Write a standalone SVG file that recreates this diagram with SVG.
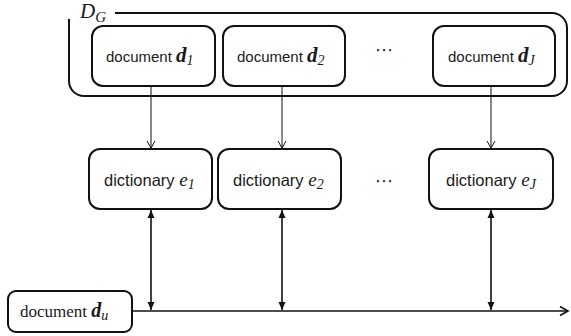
<svg xmlns="http://www.w3.org/2000/svg" width="571" height="336" viewBox="0 0 571 336">
  <style>
    .box { fill: #ffffff; stroke: #111111; stroke-width: 2; }
    .frame { fill: none; stroke: #111111; stroke-width: 2; }
    .lbl { font-family: "Liberation Sans", Arial, sans-serif; fill: #1a1a1a; }
    .math { font-family: "Liberation Serif", "DejaVu Serif", serif; font-style: italic; fill: #1a1a1a; }
    .thin { fill: none; stroke: #111111; stroke-width: 1; }
    .mid { fill: none; stroke: #111111; stroke-width: 1.6; }
    .dots { font-family: "DejaVu Sans", sans-serif; font-size: 18px; fill: #333333; }
  </style>
  <defs>
    <marker id="openHead" markerWidth="10" markerHeight="10" refX="8" refY="5" orient="auto" markerUnits="userSpaceOnUse">
      <path d="M1,1 L8,5 L1,9" fill="none" stroke="#111111" stroke-width="1"/>
    </marker>
    <marker id="solidHead" markerWidth="10" markerHeight="10" refX="8" refY="5" orient="auto-start-reverse" markerUnits="userSpaceOnUse">
      <path d="M0,1.5 L8,5 L0,8.5 Z" fill="#111111"/>
    </marker>
    <marker id="chevron" markerWidth="12" markerHeight="12" refX="10" refY="6" orient="auto" markerUnits="userSpaceOnUse">
      <path d="M2,1.5 L10,6 L2,10.5" fill="none" stroke="#111111" stroke-width="1.6"/>
    </marker>
  </defs>

  <!-- document group frame D_G -->
  <g id="group-DG">
    <path class="frame" d="M115,13 H552 A15,15 0 0 1 567,28 V81 A15,15 0 0 1 552,96 H84 A15,15 0 0 1 69,81 V19"/>
    <text class="math" x="80" y="18" font-size="21">D<tspan font-size="15" dy="4">G</tspan></text>
  </g>

  <!-- connectors -->
  <g id="connectors">
    <line class="thin" x1="151" y1="87" x2="151" y2="148" marker-end="url(#openHead)"/>
    <line class="thin" x1="282" y1="87" x2="282" y2="148" marker-end="url(#openHead)"/>
    <line class="thin" x1="491" y1="87" x2="491" y2="148" marker-end="url(#openHead)"/>
    <line class="mid" x1="151" y1="210" x2="151" y2="310" marker-start="url(#solidHead)" marker-end="url(#solidHead)"/>
    <line class="mid" x1="282" y1="210" x2="282" y2="310" marker-start="url(#solidHead)" marker-end="url(#solidHead)"/>
    <line class="mid" x1="491" y1="210" x2="491" y2="310" marker-start="url(#solidHead)" marker-end="url(#solidHead)"/>
    <line class="mid" x1="132" y1="311" x2="568" y2="311" marker-end="url(#chevron)"/>
  </g>

  <!-- documents -->
  <g id="doc-d1">
    <rect class="box" x="92" y="26" width="123" height="60" rx="11"/>
    <text class="lbl" x="106" y="62" font-size="15">document <tspan class="math" font-weight="bold" font-size="21">d</tspan><tspan class="math" font-style="normal" font-size="14" dy="3">1</tspan></text>
  </g>
  <g id="doc-d2">
    <rect class="box" x="223" y="26" width="122" height="60" rx="11"/>
    <text class="lbl" x="237" y="62" font-size="15">document <tspan class="math" font-weight="bold" font-size="21">d</tspan><tspan class="math" font-style="normal" font-size="14" dy="3">2</tspan></text>
  </g>
  <g id="doc-dots">
    <text class="dots" x="384" y="56" text-anchor="middle">⋯</text>
  </g>
  <g id="doc-dJ">
    <rect class="box" x="433" y="26" width="122" height="60" rx="11"/>
    <text class="lbl" x="448" y="62" font-size="15">document <tspan class="math" font-weight="bold" font-size="21">d</tspan><tspan class="math" font-size="14" dy="3">J</tspan></text>
  </g>

  <!-- dictionaries -->
  <g id="dict-e1">
    <rect class="box" x="89" y="149" width="123" height="60" rx="11"/>
    <text class="lbl" x="104" y="186" font-size="16.5">dictionary <tspan class="math" font-size="19">e</tspan><tspan class="math" font-style="normal" font-size="14" dy="3">1</tspan></text>
  </g>
  <g id="dict-e2">
    <rect class="box" x="218" y="149" width="123" height="60" rx="11"/>
    <text class="lbl" x="233" y="186" font-size="16.5">dictionary <tspan class="math" font-size="19">e</tspan><tspan class="math" font-style="normal" font-size="14" dy="3">2</tspan></text>
  </g>
  <g id="dict-dots">
    <text class="dots" x="384" y="187" text-anchor="middle">⋯</text>
  </g>
  <g id="dict-eJ">
    <rect class="box" x="429" y="149" width="124" height="60" rx="11"/>
    <text class="lbl" x="446" y="186" font-size="16.5">dictionary <tspan class="math" font-size="19">e</tspan><tspan class="math" font-size="14" dy="3">J</tspan></text>
  </g>

  <!-- query document -->
  <g id="doc-du">
    <rect class="box" x="8" y="291" width="124" height="41" rx="8"/>
    <text x="20" y="317" font-family="Liberation Serif, serif" font-size="17" fill="#1a1a1a">document <tspan class="math" font-weight="bold" font-size="20">d</tspan><tspan class="math" font-size="14" dy="3">u</tspan></text>
  </g>
</svg>
